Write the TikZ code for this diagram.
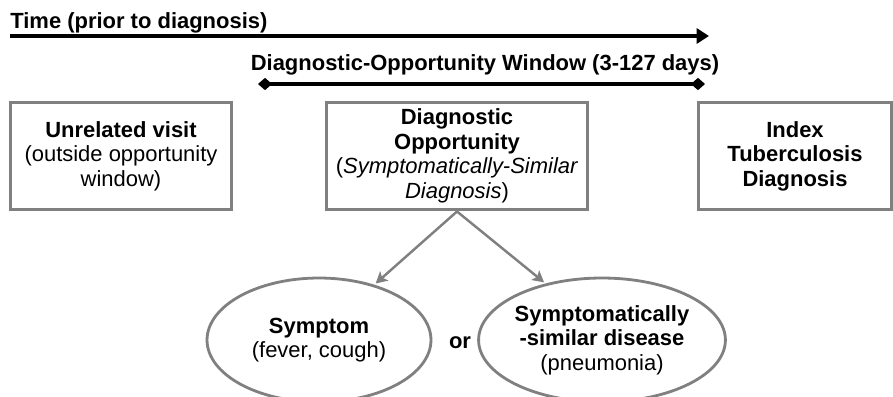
\documentclass[tikz,border=0pt]{standalone}
\usepackage{fontspec}
\setmainfont{Liberation Sans}
\usepackage{tikz}
\usetikzlibrary{positioning, arrows.meta, shapes.geometric, calc}
\definecolor{tbgray}{RGB}{128,128,128}
\newcommand{\tbfont}{\fontsize{12.5}{14}\selectfont}
\tikzset{
    tbbox/.style={draw=tbgray, line width=1.7pt, minimum height=2.16cm, align=center, font=\tbfont, inner sep=2pt},
    tbellipse/.style={draw=tbgray, line width=1.6pt, ellipse, minimum height=2.48cm, align=center, font=\tbfont, inner sep=0pt},
    tbarrow/.style={-{Stealth[length=6.5pt, width=7pt, inset=1.5pt]}, draw=tbgray, fill=tbgray, line width=1.4pt, shorten >=1pt},
    timearrow/.style={-{Triangle[length=7pt, width=8.5pt]}, line width=2.1pt},
    windowarrow/.style={{Diamond[length=8pt, width=7pt]}-{Diamond[length=8pt, width=7pt]}, line width=2pt},
    tblbl/.style={font=\tbfont\bfseries, inner sep=0pt},
}

\begin{document}
\begin{tikzpicture}[x=0.02cm, y=-0.02cm]
        \useasboundingbox (0,0) rectangle (893,396);
        \clip (0,0) rectangle (893,396);
        % Time axis
        \node[tblbl, anchor=base west] (tlbl) at (10,28) {Time (prior to diagnosis)};
        \coordinate (tstart) at (10,36);
        \coordinate (tend)   at (709,36);
        \draw[timearrow] (tstart) -- (tend);
        % Opportunity window
        \node[tblbl, anchor=base] (wlbl) at (485,70) {Diagnostic-Opportunity Window (3-127 days)};
        \coordinate (wstart) at (258,84);
        \coordinate (wend)   at (705,84);
        \draw[windowarrow] (wstart) -- (wend);
        % Visits
        \node[tbbox, minimum width=4.44cm] (unrel) at (121,156) {\textbf{Unrelated visit}\\ (outside opportunity\\ window)};
        \node[tbbox, minimum width=5.24cm] (diag)  at (457,156) {\textbf{Diagnostic}\\ \textbf{Opportunity}\\ (\textit{Symptomatically-Similar}\\ \textit{Diagnosis})};
        \node[tbbox, minimum width=3.88cm] (index) at (795,156) {\textbf{Index}\\ \textbf{Tuberculosis}\\ \textbf{Diagnosis}};
        % Kinds of opportunity
        \node[tbellipse, minimum width=4.48cm] (symp) at (319,340) {\textbf{Symptom}\\ (fever, cough)};
        \node[tbellipse, minimum width=4.64cm] (sim)  at (602,340) {\textbf{Symptomatically}\\ \textbf{-similar disease}\\ (pneumonia)};
        \node[tblbl] (or) at (460,343) {or};
        \draw[tbarrow] (diag.south) -- (symp.45);
        \draw[tbarrow] (diag.south) -- (sim.135);
    \end{tikzpicture}
\end{document}
